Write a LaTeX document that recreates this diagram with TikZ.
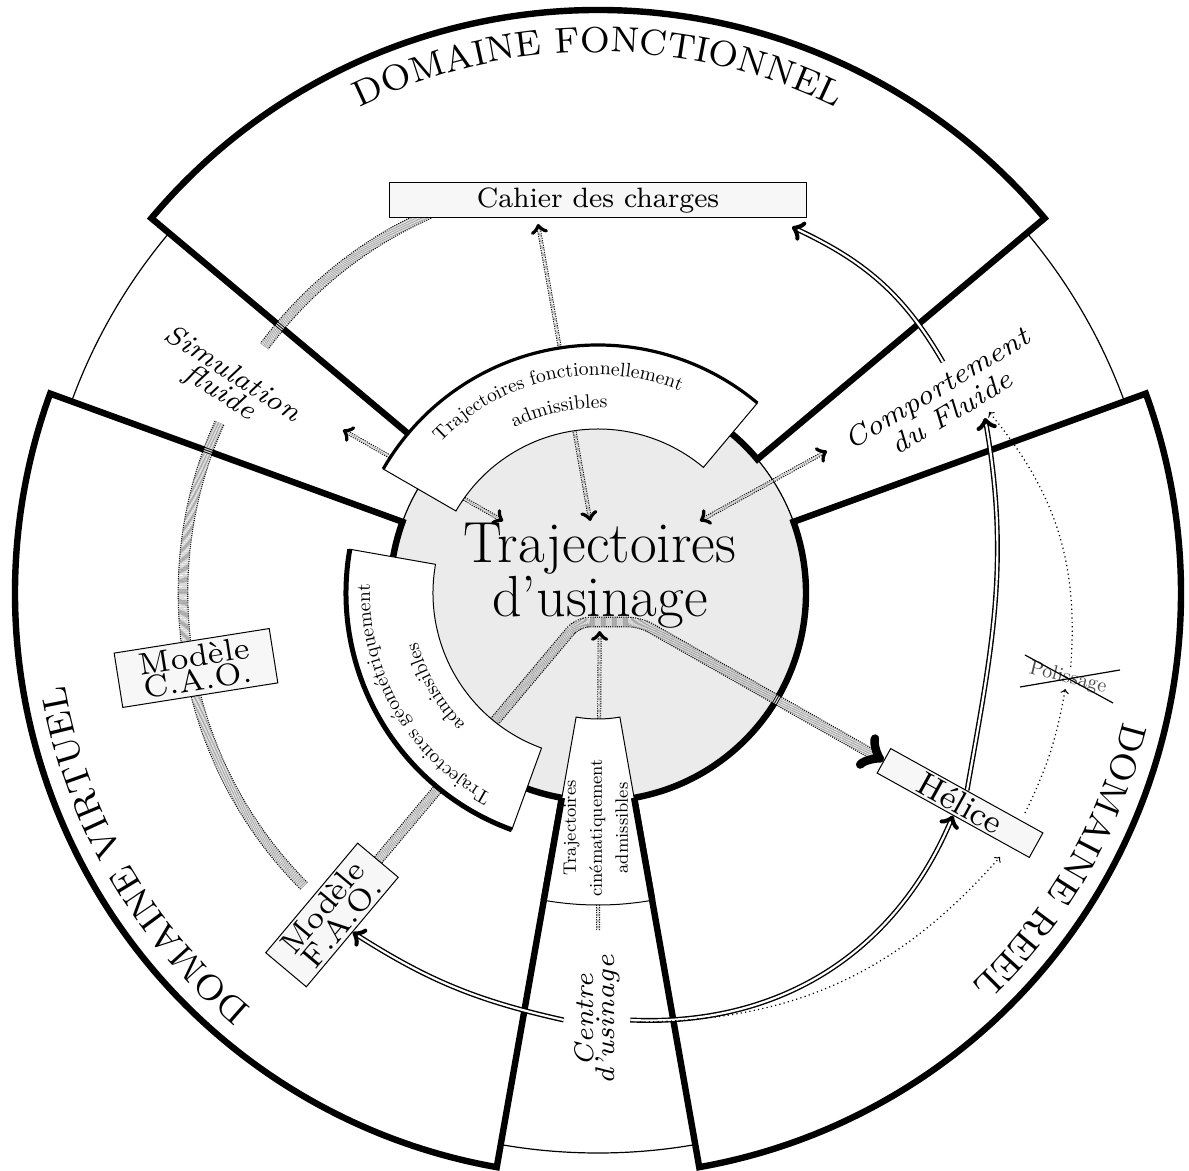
\documentclass[tikz,border=0pt]{standalone}
\usepackage{fontspec}
\newfontfamily\lmeight{lmroman8-regular.otf}
\newfontfamily\lmseven{lmroman7-regular.otf}
\newfontfamily\lmsevenit{lmroman7-italic.otf}
\usetikzlibrary{decorations.text,calc}
\pgfdeclarelayer{bg}
\pgfdeclarelayer{conn}
\pgfdeclarelayer{bands}
\pgfsetlayers{bg,conn,bands,main}
\begin{document}
\begin{tikzpicture}[x=0.5pt,y=0.5pt,
  sectorline/.style={line width=3.2pt},
  box/.style={draw, line width=0.5pt, fill=black!3, inner sep=0pt},
  dd/.style={double=black!12, double distance=1.1pt, line width=0.45pt, dash pattern=on 0.6pt off 0.6pt},
  band/.style={double=black!16, double distance=4.2pt, line width=0.55pt, dash pattern=on 0.55pt off 0.55pt},
  dbl/.style={double, double distance=1.1pt, line width=0.7pt},
  fdot/.style={line width=0.6pt, dash pattern=on 0.6pt off 1.6pt},
  bandtext/.style={decorate, decoration={text along path, text align=center, text={#1}}}]
\useasboundingbox (-598,-578) rectangle (591,593);
\begin{pgfonlayer}{bg}
\fill[white] (-598,-578) rectangle (591,593);
\draw[line width=0.6pt] (0,0) circle (560);
\foreach \a/\b in {40/140,160/260,280/380}
  \fill[white] (\a:208) arc (\a:\b:208) -- (\b:583) arc (\b:\a:583) -- cycle;
\draw[fill=black!8, line width=0.6pt] (0,0) circle (208);
\foreach \a/\b in {40/140,160/260,280/380}
  \draw[sectorline] (\a:208) arc (\a:\b:208) -- (\b:583) arc (\b:\a:583) -- cycle;
\end{pgfonlayer}

% domain labels
\path[bandtext={|\lmeight\fontsize{18}{20}\selectfont|DOMAINE FONCTIONNEL}] (140:541) arc (140:40:541);
\path[bandtext={|\lmeight\fontsize{18}{20}\selectfont|DOMAINE VIRTUEL}] (260:541) arc (260:160:541);
\path[bandtext={|\lmeight\fontsize{18}{20}\selectfont|DOMAINE REEL}] (20:541) arc (20:-80:541);

% nodes
\node[box, minimum width=208.5pt, minimum height=17.5pt, font=\lmeight\fontsize{14}{15}\selectfont] (cah) at (0,392.5) {Cahier des charges};
\node[align=center, inner sep=1pt, font=\fontsize{29}{22}\selectfont] (traj) at (2,17) {Trajectoires\\d’usinage};
\node[align=center, inner sep=0pt, rotate=-33, font=\lmsevenit\fontsize{14}{10}\selectfont] (sim) at (-372,209) {Simulation\\fluide};
\node[align=center, inner sep=1pt, rotate=31, font=\lmsevenit\fontsize{14}{14}\selectfont] (comp) at (346,193) {Comportement\\du Fluide};
\node[align=center, inner sep=5pt, rotate=90, font=\lmsevenit\fontsize{13.5}{9}\selectfont] (centre) at (-1,-427) {Centre\\d’usinage};
\node[box, rotate=9, minimum width=78.5pt, minimum height=27.5pt, align=center, font=\lmseven\fontsize{15.5}{8.5}\selectfont] (cao) at (-402,-75) {Modèle\\C.A.O.};
\node[box, rotate=50, minimum width=71.5pt, minimum height=26.5pt, align=center, font=\lmseven\fontsize{15.5}{8.5}\selectfont] (fao) at (-266,-322) {Modèle\\F.A.O.};
\node[box, rotate=-29, minimum width=87pt, minimum height=14pt, font=\lmeight\fontsize{16.5}{16}\selectfont] (hel) at (362,-210) {Hélice};
\node[rotate=-14, inner sep=1pt, text=black!70, font=\fontsize{10}{12}\selectfont] (pol) at (470,-85) {Polissage};
\draw[line width=0.6pt] (427,-62) -- (515,-110);
\draw[line width=0.6pt] (422,-94) -- (522,-77);

% free ends
\coordinate (simtip) at (-255,163);
\coordinate (cahtip) at (-60,369);
\coordinate (comptip) at (229,142);
\coordinate (centtop) at (0,-337);
\coordinate (compA) at (387,175);
\coordinate (compB) at (345,231);
\coordinate (cahR) at (194,366);
\coordinate (centR) at (42,-429);
\coordinate (helR) at (402,-264);
\coordinate (helT) at (427,-220);
\coordinate (compC) at (391,181);

\begin{pgfonlayer}{conn}
\draw[band] (114:415) arc (114:143.5:415);
\draw[band] (155.8:415) arc (155.8:225:415);
\draw[band, ->, rounded corners=6pt] (fao.east) -- (-20,-29) -- (42,-29) -- (hel.west);
\draw[dd, <->] (traj) -- (simtip);
\draw[dd, <->] (traj) -- (cahtip);
\draw[dd, <->] (traj) -- (comptip);
\draw[dd, ->] (centtop) -- (traj);
\draw[dbl, ->] (centre.north) to[bend left=10] (fao.south);
\draw[dbl, ->] (centre.south) to[bend right=35] (hel.south);
\draw[dbl, ->] (hel.north) to[out=80, in=-80] (compA);
\draw[dbl, ->] (compB) to[out=120, in=-25] (cahR);
\draw[fdot, ->] (centR) to[bend right=24] (helR);
\draw[fdot, ->] (helT) to[bend right=8] (pol.south);
\draw[fdot, ->] (pol.north) to[bend right=22] (compC);
\end{pgfonlayer}

\begin{pgfonlayer}{bands}
% fonctionnel band
\fill[white] (150:164) arc (150:50:164) -- (50:248) arc (50:150:248) -- cycle;
\draw[line width=0.5pt] (150:164) arc (150:50:164) -- (50:248) arc (50:150:248) -- cycle;
\draw[line width=1.6pt] (150:248) arc (150:50:248);
% geometric band
\fill[white] (170:165) arc (170:250:165) -- (250:252) arc (250:170:252) -- cycle;
\draw[line width=0.5pt] (170:165) arc (170:250:165) -- (250:252) arc (250:170:252) -- cycle;
\draw[line width=2.5pt] (170:252) arc (170:250:252);
% kinematic band
\fill[white] (260:126) arc (260:280:126) -- (280:312) arc (280:260:312) -- cycle;
\draw[line width=0.5pt] (260:126) arc (260:280:126) -- (280:312) arc (280:260:312) -- cycle;
\draw[sectorline] (260:208) -- (260:312);
\draw[sectorline] (280:208) -- (280:312);
\path[bandtext={|\fontsize{9.8}{11}\selectfont|Trajectoires fonctionnellement}] (152:218) arc (152:52:218);
\path[bandtext={|\fontsize{9.8}{11}\selectfont|admissibles}] (152:185) arc (152:52:185);
\path[bandtext={|\fontsize{9.8}{11}\selectfont|Trajectoires géométriquement}] (250:228) arc (250:170:228);
\path[bandtext={|\fontsize{9.8}{11}\selectfont|admissibles}] (250:187) arc (250:170:187);
\node[rotate=90, align=center, inner sep=0pt, font=\fontsize{9}{13}\selectfont] (cine) at (-2,-235) {Trajectoires\\cinématiquement\\admissibles};
\end{pgfonlayer}
\end{tikzpicture}
\end{document}
